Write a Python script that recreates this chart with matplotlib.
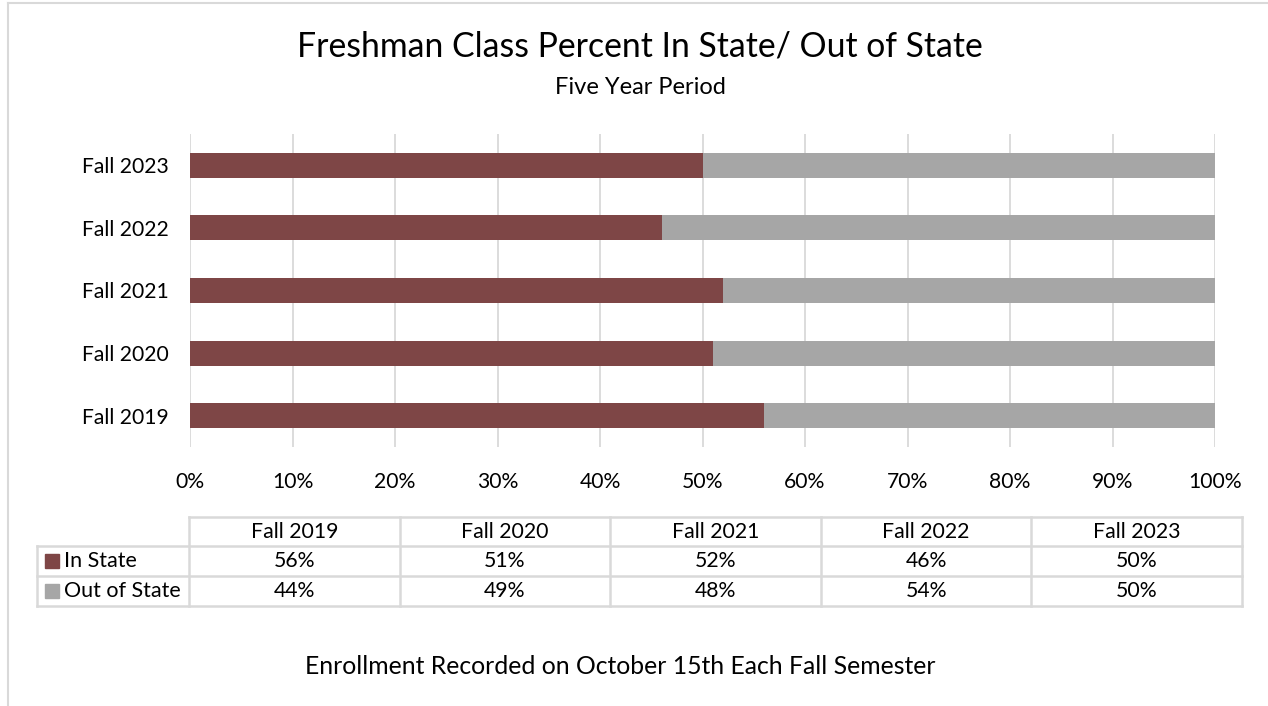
import matplotlib
matplotlib.use("Agg")
import matplotlib.pyplot as plt
import numpy as np

plt.rcParams['font.family'] = ['Lato', 'DejaVu Sans']

categories = ["Fall 2019", "Fall 2020", "Fall 2021", "Fall 2022", "Fall 2023"]
in_state = [56, 51, 52, 46, 50]
out_state = [44, 49, 48, 54, 50]
series_names = ["In State", "Out of State"]
xtick_vals = [0, 10, 20, 30, 40, 50, 60, 70, 80, 90, 100]

MAROON = "#7E4646"
GRAY = "#A6A6A6"
GRID = "#D9D9D9"
TXT = "#000000"

W, H = 1268, 706
fig = plt.figure(figsize=(W / 100, H / 100), dpi=100)
fig.patch.set_facecolor("white")

def fx(px):
    return px / W

def fy(py):
    return 1 - py / H

# main axes
L, R, T, B = 190, 1215, 134, 447
ax = fig.add_axes([fx(L), fy(B), fx(R - L), (B - T) / H])
y = np.arange(len(categories))
ax.barh(y, in_state, height=0.4, color=MAROON, zorder=3)
ax.barh(y, out_state, left=in_state, height=0.4, color=GRAY, zorder=3)
ax.set_xlim(0, 100)
ax.set_ylim(-0.5, len(categories) - 0.5)
ax.set_xticks(xtick_vals)
ax.set_xticklabels([f"{v}%" for v in xtick_vals])
ax.set_yticks(y)
ax.set_yticklabels(categories)
ax.tick_params(axis='both', length=0, labelsize=15.2, colors=TXT)
ax.tick_params(axis='x', pad=18)
ax.tick_params(axis='y', pad=15)
ax.grid(axis='x', color=GRID, linewidth=1.3, zorder=0)
for s in ax.spines.values():
    s.set_visible(False)

# overlay for frame, title, table
ov = fig.add_axes([0, 0, 1, 1], facecolor="none")
ov.set_xlim(0, W)
ov.set_ylim(H, 0)
ov.axis("off")
ov.plot([8, 8], [3, H], color=GRID, lw=1.5)
ov.plot([8, W], [3, 3], color=GRID, lw=1.5)

ov.text(640, 47, "Freshman Class Percent In State/ Out of State", ha="center", va="center", fontsize=24.3, color=TXT)
ov.text(640, 87, "Five Year Period", ha="center", va="center", fontsize=17, color=TXT)
ov.text(620, 667, "Enrollment Recorded on October 15th Each Fall Semester", ha="center", va="center", fontsize=17.8, color=TXT)

# data table
tx0, tx1 = 37, 1242
cx0 = 189
rows_y = [517, 546, 576, 606]
ncol = len(categories)
col_edges = np.linspace(cx0, tx1, ncol + 1)
lc = GRID
lw = 1.8
# horizontal lines
ov.plot([cx0, tx1], [rows_y[0], rows_y[0]], color=lc, lw=lw)
for yy in rows_y[1:]:
    ov.plot([tx0, tx1], [yy, yy], color=lc, lw=lw)
# vertical lines
ov.plot([tx0, tx0], [rows_y[1], rows_y[3]], color=lc, lw=lw)
for xx in col_edges:
    ov.plot([xx, xx], [rows_y[0], rows_y[3]], color=lc, lw=lw)

for i, c in enumerate(categories):
    cx = (col_edges[i] + col_edges[i + 1]) / 2
    ov.text(cx, (rows_y[0] + rows_y[1]) / 2, c, ha="center", va="center", fontsize=15.3, color=TXT)
    ov.text(cx, (rows_y[1] + rows_y[2]) / 2, f"{in_state[i]}%", ha="center", va="center", fontsize=15.3, color=TXT)
    ov.text(cx, (rows_y[2] + rows_y[3]) / 2, f"{out_state[i]}%", ha="center", va="center", fontsize=15.3, color=TXT)

for r, (name, col) in enumerate(zip(series_names, [MAROON, GRAY])):
    yc = (rows_y[r + 1] + rows_y[r + 2]) / 2
    ov.add_patch(plt.Rectangle((45, yc - 7), 14, 14, color=col))
    ov.text(64, yc, name, ha="left", va="center", fontsize=15.5, color=TXT)

fig.savefig("out.png", dpi=100)
